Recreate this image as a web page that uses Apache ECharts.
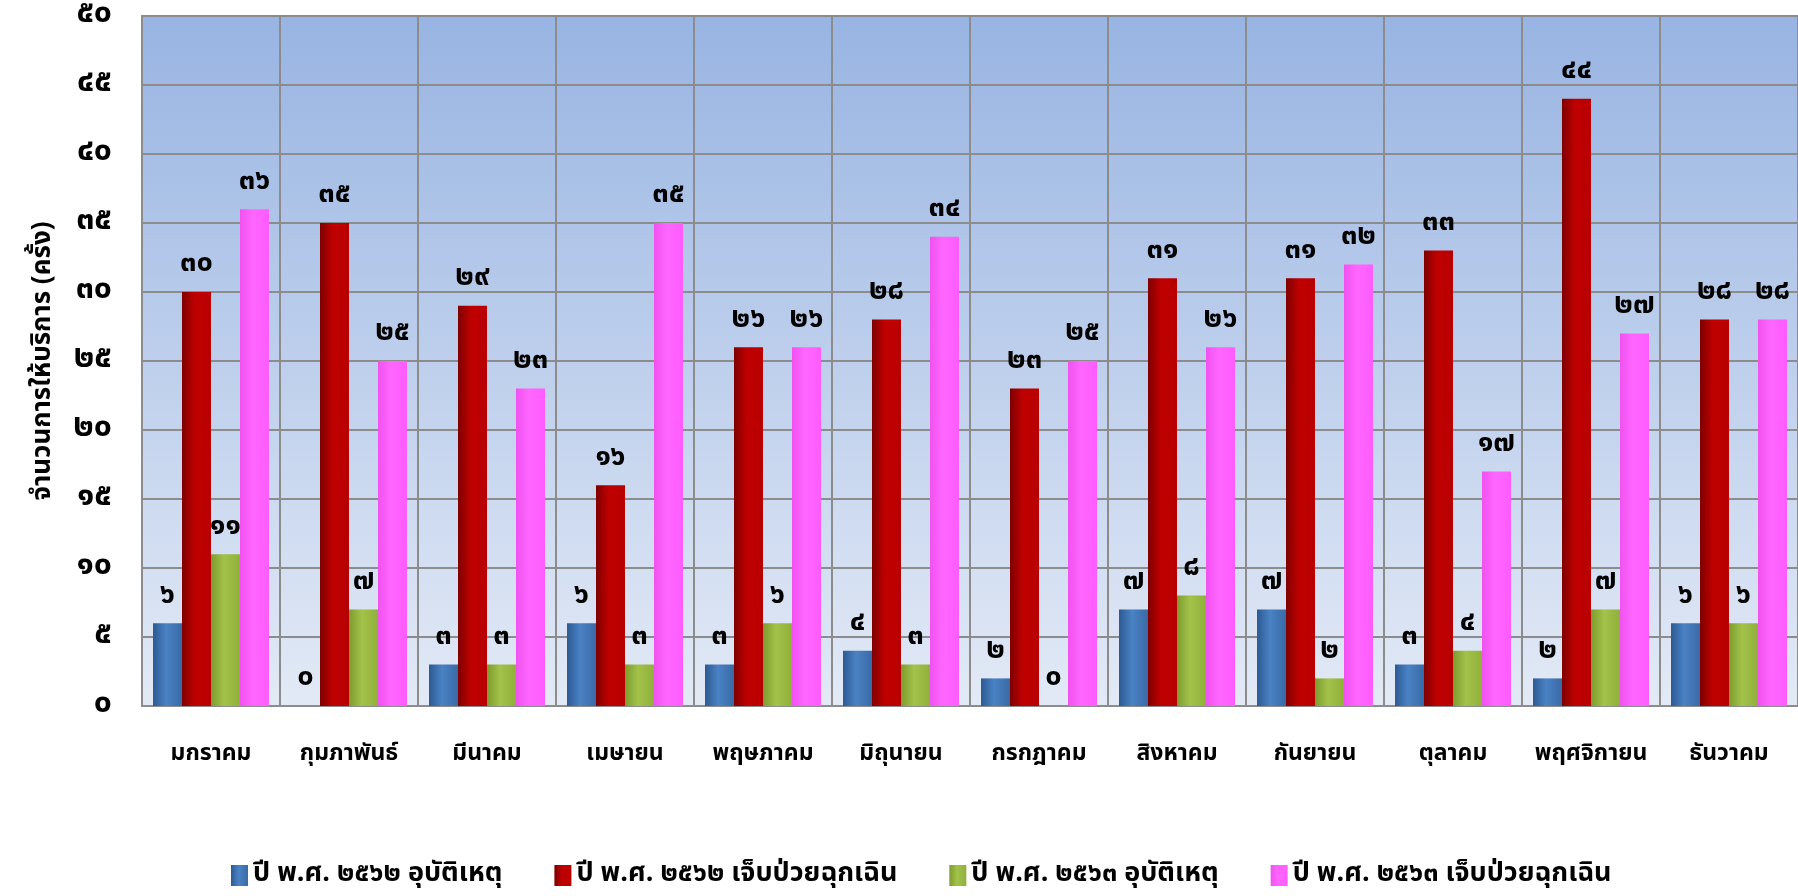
<!DOCTYPE html>
<html>
<head>
<meta charset="utf-8">
<script src="https://cdn.jsdelivr.net/npm/echarts@6/dist/echarts.min.js"></script>
<style>html,body{margin:0;padding:0;background:#fff;}#c{width:1798px;height:896px;}</style>
</head>
<body>
<div id="c"></div>
<script>
var months = ['มกราคม','กุมภาพันธ์','มีนาคม','เมษายน','พฤษภาคม','มิถุนายน','กรกฎาคม','สิงหาคม','กันยายน','ตุลาคม','พฤศจิกายน','ธันวาคม'];
var seriesNames = ['ปี พ.ศ. ๒๕๖๒ อุบัติเหตุ','ปี พ.ศ. ๒๕๖๒ เจ็บป่วยฉุกเฉิน','ปี พ.ศ. ๒๕๖๓ อุบัติเหตุ','ปี พ.ศ. ๒๕๖๓ เจ็บป่วยฉุกเฉิน'];
var acc2562 = [6, 0, 3, 6, 3, 4, 2, 7, 7, 3, 2, 6];
var emg2562 = [30, 35, 29, 16, 26, 28, 23, 31, 31, 33, 44, 28];
var acc2563 = [11, 7, 3, 3, 6, 3, 0, 8, 2, 4, 7, 6];
var emg2563 = [36, 25, 23, 35, 26, 34, 25, 26, 32, 17, 27, 28];
var yAxisName = 'จำนวนการให้บริการ (ครั้ง)';

var FONT = "'Noto Sans Thai','Tahoma','Noto Sans','DejaVu Sans',sans-serif";
function thai(n){ return String(n).replace(/[0-9]/g, function(d){ return String.fromCharCode(0x0E50 + (+d)); }); }
function grad(c0, c1, c2){
  return {type:'linear', x:0, y:0, x2:1, y2:0, colorStops:[
    {offset:0, color:c0},{offset:0.45, color:c1},{offset:1, color:c2}]};
}
var styles = [
  {color: grad('#2c5a93','#4a82c4','#3a6aa6'), legend:'#3f72b0'},
  {color: grad('#7e0000','#c00000','#b80000'), legend:'#c00000'},
  {color: grad('#7d9c2e','#a2c24a','#8fb03a'), legend:'#95b83e'},
  {color: grad('#f052f0','#ff66ff','#ff5cff'), legend:'#ff5cff'}
];
var datasets = [acc2562, emg2562, acc2563, emg2563];
var series = datasets.map(function(d, i){
  return {
    name: seriesNames[i], type:'bar', data:d, barWidth:29, barGap:'0%',
    itemStyle:{color:styles[i].color},
    label:{show:true, position:'top', distance:12, fontFamily:FONT, fontSize:29, fontWeight:'bold', color:'#000',
      formatter:function(p){ return thai(p.value); }}
  };
});

var chart = echarts.init(document.getElementById('c'));
chart.setOption({
  animation:false,
  color: styles.map(function(s){return s.legend;}),
  grid:{left:142, top:13, right:-2, bottom:190, show:true, borderColor:'#8c8c8c', borderWidth:2,
    backgroundColor:{type:'linear', x:0, y:0, x2:0, y2:1, colorStops:[{offset:0,color:'#98b4e2'},{offset:1,color:'#e3eaf6'}]}},
  legend:{bottom:2, left:226, itemGap:52, itemWidth:17, itemHeight:21, icon:'rect',
    textStyle:{fontFamily:FONT, fontSize:27, fontWeight:'bold', color:'#000'}},
  xAxis:{type:'category', data:months,
    axisLine:{show:true, lineStyle:{color:'#8c8c8c', width:2}}, axisTick:{show:false},
    splitLine:{show:true, lineStyle:{color:'#8c8c8c', width:2}},
    axisLabel:{margin:38, fontFamily:FONT, fontSize:23, fontWeight:'bold', color:'#000', interval:0}},
  yAxis:{type:'value', min:0, max:50, interval:5,
    name:yAxisName, nameLocation:'middle', nameGap:84, nameRotate:90,
    nameTextStyle:{fontFamily:FONT, fontSize:26, fontWeight:'bold', color:'#000'},
    axisLine:{show:false}, axisTick:{show:false},
    splitLine:{show:true, lineStyle:{color:'#8c8c8c', width:2}},
    axisLabel:{margin:30, fontFamily:FONT, fontSize:32, fontWeight:'bold', color:'#000', formatter:function(v){return thai(v);}}},
  series: series
});
</script>
</body>
</html>
